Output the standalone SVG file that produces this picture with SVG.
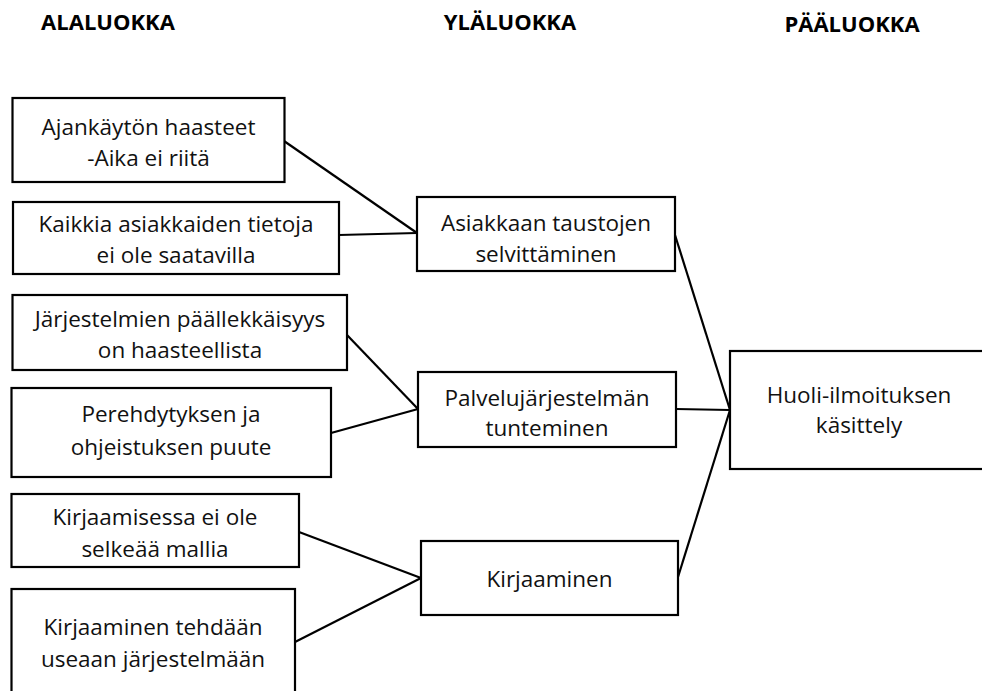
<svg xmlns="http://www.w3.org/2000/svg" width="982" height="691" viewBox="0 0 982 691">
<style>
.box{fill:#fff;stroke:#000;stroke-width:2.2}
.t{font-family:"Open Sans","Noto Sans","Liberation Sans",sans-serif;font-size:22.5px;fill:#111;text-anchor:middle}
.h{font-family:"Open Sans","Noto Sans","Liberation Sans",sans-serif;font-size:22px;font-weight:bold;fill:#000;text-anchor:middle}
.c line{stroke:#000;stroke-width:2.2;fill:none}
</style>
<rect width="982" height="691" fill="#fff"/>
<g id="headers">
<text class="h" x="108" y="30">ALALUOKKA</text>
<text class="h" x="510" y="30">YLÄLUOKKA</text>
<text class="h" x="852" y="32">PÄÄLUOKKA</text>
</g>
<g class="c" id="connectors">
<line x1="284" y1="141" x2="417" y2="233"/>
<line x1="339" y1="235" x2="417" y2="233"/>
<line x1="347" y1="335" x2="418" y2="409"/>
<line x1="331" y1="433" x2="418" y2="409"/>
<line x1="299" y1="532" x2="421" y2="578"/>
<line x1="295" y1="642" x2="421" y2="578"/>
<line x1="675" y1="235" x2="730" y2="410"/>
<line x1="676" y1="409" x2="730" y2="410"/>
<line x1="678" y1="577" x2="730" y2="410"/>
</g>
<g id="n1"><rect class="box" x="12.5" y="98" width="272" height="84"/><text class="t" x="148.5" y="135">Ajankäytön haasteet</text><text class="t" x="148.5" y="166">-Aika ei riitä</text></g>
<g id="n2"><rect class="box" x="13" y="202" width="326" height="72"/><text class="t" x="176" y="232">Kaikkia asiakkaiden tietoja</text><text class="t" x="176" y="263">ei ole saatavilla</text></g>
<g id="n3"><rect class="box" x="12.5" y="295" width="334.5" height="75"/><text class="t" x="180" y="327">Järjestelmien päällekkäisyys</text><text class="t" x="180" y="358">on haasteellista</text></g>
<g id="n4"><rect class="box" x="11.5" y="388" width="319.5" height="89"/><text class="t" x="171" y="422">Perehdytyksen ja</text><text class="t" x="171" y="455">ohjeistuksen puute</text></g>
<g id="n5"><rect class="box" x="11.5" y="494" width="287.5" height="73"/><text class="t" x="155" y="525">Kirjaamisessa ei ole</text><text class="t" x="155" y="557">selkeää mallia</text></g>
<g id="n6"><rect class="box" x="11.5" y="589" width="283.5" height="120"/><text class="t" x="153" y="635">Kirjaaminen tehdään</text><text class="t" x="153" y="667">useaan järjestelmään</text></g>
<g id="m1"><rect class="box" x="417" y="197" width="258" height="74"/><text class="t" x="546" y="231">Asiakkaan taustojen</text><text class="t" x="546" y="262">selvittäminen</text></g>
<g id="m2"><rect class="box" x="418" y="372" width="258" height="75"/><text class="t" x="547" y="406">Palvelujärjestelmän</text><text class="t" x="547" y="436">tunteminen</text></g>
<g id="m3"><rect class="box" x="421" y="541" width="257" height="74"/><text class="t" x="549.5" y="587">Kirjaaminen</text></g>
<g id="top"><rect class="box" x="730" y="351" width="262" height="118"/><text class="t" x="859" y="403">Huoli-ilmoituksen</text><text class="t" x="859" y="433">käsittely</text></g>
</svg>
